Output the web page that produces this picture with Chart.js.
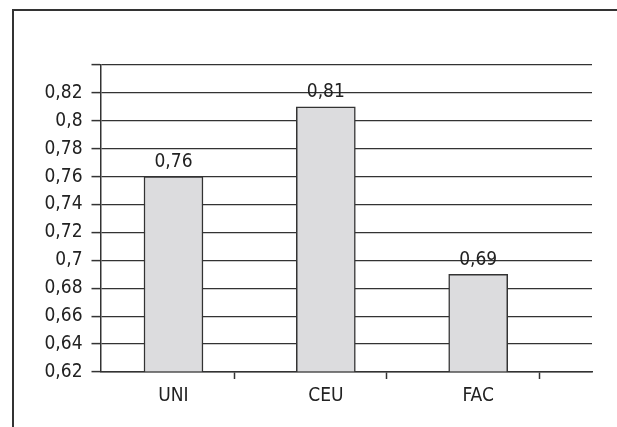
<!DOCTYPE html>
<html>
<head>
<meta charset="utf-8">
<script src="https://cdn.jsdelivr.net/npm/chart.js@4/dist/chart.umd.min.js"></script>
<style>
  html, body { margin: 0; padding: 0; background: #fff; }
  #frame {
    position: absolute; left: 12px; top: 9px;
    width: 605px; height: 418px;
    border-top: 2px solid #333; border-left: 2px solid #333;
  }
  #wrap { position: absolute; left: 0; top: 0; width: 603px; height: 416px; }
</style>
</head>
<body>
<div id="frame"><div id="wrap"><canvas id="chart"></canvas></div></div>
<script>
const categories = ['UNI', 'CEU', 'FAC'];
const values = [0.76, 0.81, 0.69];
const yTicks = [0.62, 0.64, 0.66, 0.68, 0.7, 0.72, 0.74, 0.76, 0.78, 0.8, 0.82, 0.84];

const fontFamily = '"DejaVu Sans Condensed", "Liberation Sans Narrow", sans-serif';
const comma = v => String(Number(v.toFixed(2))).replace('.', ',');

// category i sits at x = i + 1, separator ticks sit 0.4 to the right
const barPoints = categories.map((c, i) => ({ x: i + 1, y: values[i] }));
const sepTicks = categories.map((c, i) => i + 1.4);

const valueLabels = {
    id: 'valueLabels',
    afterDatasetsDraw(chart) {
        const ctx = chart.ctx;
        ctx.save();
        ctx.font = '19px ' + fontFamily;
        ctx.fillStyle = '#222';
        ctx.textAlign = 'center';
        ctx.textBaseline = 'bottom';
        chart.getDatasetMeta(0).data.forEach((bar, i) => {
            ctx.fillText(comma(values[i]), bar.x, bar.y - 5);
        });
        ctx.restore();
    }
};

const isCategoryTick = ctx => ctx.tick && Number.isInteger(ctx.tick.value);

new Chart(document.getElementById('chart'), {
    type: 'bar',
    data: {
        datasets: [{
            data: barPoints,
            base: yTicks[0],
            backgroundColor: '#dcdcde',
            borderColor: '#333',
            borderWidth: 1.5,
            barThickness: 59,
        }]
    },
    options: {
        responsive: true,
        maintainAspectRatio: false,
        animation: false,
        layout: { padding: { left: 0, right: 25, top: 54, bottom: 0 } },
        plugins: {
            legend: { display: false },
            tooltip: { enabled: false },
        },
        scales: {
            x: {
                type: 'linear',
                offset: false,
                min: 0.521,
                max: 3.747,
                afterBuildTicks: scale => {
                    scale.ticks = categories.map((c, i) => ({ value: i + 1 }))
                        .concat(sepTicks.map(v => ({ value: v })))
                        .sort((a, b) => a.value - b.value);
                },
                afterFit: scale => { scale.height = 55; },
                border: { display: true, color: '#333', width: 1.5 },
                grid: {
                    offset: false,
                    drawOnChartArea: false,
                    tickLength: 7,
                    tickWidth: 1.5,
                    tickColor: ctx => isCategoryTick(ctx) ? 'rgba(0,0,0,0)' : '#333',
                },
                ticks: {
                    autoSkip: false,
                    maxRotation: 0,
                    padding: 6,
                    color: '#222',
                    font: { family: fontFamily, size: 19 },
                    callback: v => Number.isInteger(v) ? categories[v - 1] : '',
                }
            },
            y: {
                min: yTicks[0],
                max: yTicks[yTicks.length - 1],
                afterBuildTicks: scale => { scale.ticks = yTicks.map(v => ({ value: v })); },
                afterFit: scale => { scale.width = 86.5; },
                border: { display: true, color: '#333', width: 1.5 },
                grid: {
                    color: '#333',
                    lineWidth: 1.2,
                    tickLength: 9,
                    tickWidth: 1.5,
                    tickColor: '#333',
                },
                ticks: {
                    padding: 9,
                    color: '#222',
                    font: { family: fontFamily, size: 19 },
                    callback: v => v === yTicks[yTicks.length - 1] ? '' : comma(v),
                }
            }
        }
    },
    plugins: [valueLabels]
});
</script>
</body>
</html>
